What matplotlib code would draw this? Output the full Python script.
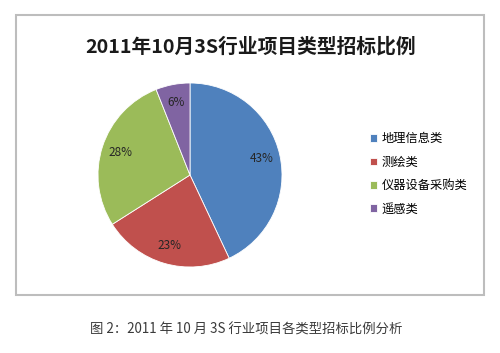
import matplotlib
matplotlib.use("Agg")
import matplotlib.pyplot as plt
from matplotlib.patches import Rectangle

plt.rcParams['font.family'] = ['Noto Sans CJK SC', 'DejaVu Sans']

categories = ['地理信息类', '测绘类', '仪器设备采购类', '遥感类']
values = [43, 23, 28, 6]
colors = ['#4F81BD', '#C0504D', '#9BBB59', '#8064A2']
title = '2011年10月3S行业项目类型招标比例'
caption = '图 2：2011 年 10 月 3S 行业项目各类型招标比例分析'

W, H = 500, 353
fig = plt.figure(figsize=(W/100, H/100), dpi=100)
fig.patch.set_facecolor('white')

# chart frame
fig.patches.append(Rectangle((16/W, 1-295/H), (484-16)/W, (295-15)/H,
                             transform=fig.transFigure, fill=False,
                             edgecolor='#BDBDBD', linewidth=1.5))

cx, cy, r = 190, 175, 92
ax = fig.add_axes([(cx-r)/W, 1-(cy+r)/H, 2*r/W, 2*r/H])
wedges, texts, autotexts = ax.pie(values, colors=colors, startangle=90, counterclock=False,
                                  autopct='%d%%', pctdistance=0.8,
                                  wedgeprops=dict(edgecolor='white', linewidth=0.6),
                                  textprops=dict(fontsize=8.5, color='#262626'))
ax.set_xlim(-1, 1)
ax.set_ylim(-1, 1)
ax.set_aspect('equal')
ax.axis('off')

fig.text(251/W, 1-47/H, title, ha='center', va='center', fontsize=14.2,
         fontweight='bold', color='#1a1a1a')

leg = fig.legend(wedges, categories, loc='center left',
                 bbox_to_anchor=(359/W, 1-174/H), frameon=False,
                 fontsize=8.8, handlelength=0.6, handleheight=0.6,
                 handletextpad=0.35, labelspacing=0.85)

fig.text(246/W, 1-330/H, caption, ha='center', va='center', fontsize=9.6,
         color='#3a3a3a')

fig.savefig('out.png', dpi=100)
